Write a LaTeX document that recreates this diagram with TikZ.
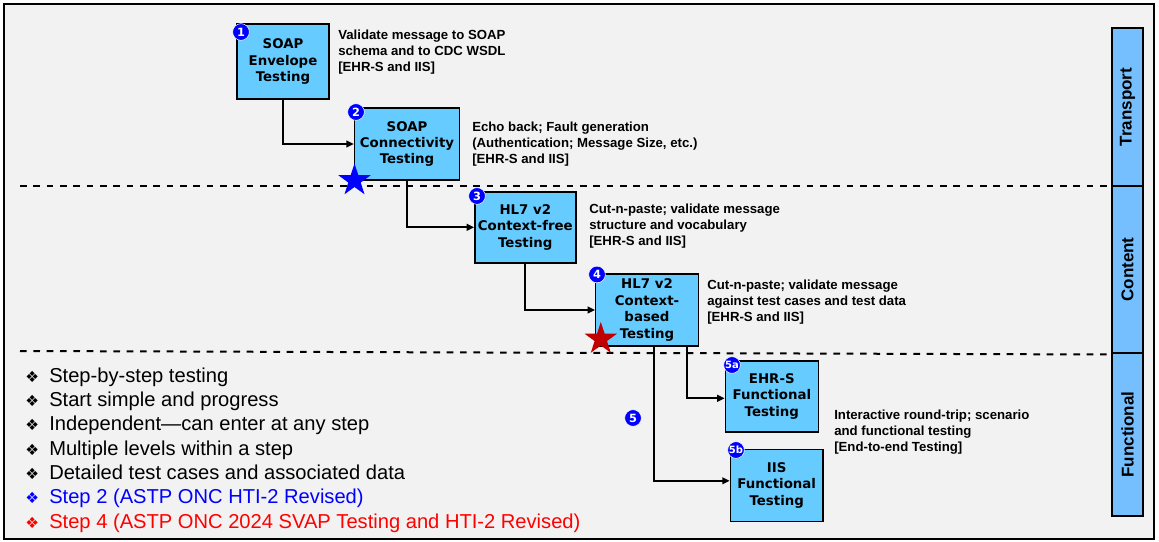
\documentclass[tikz,border=0pt]{standalone}
\usepackage{fontspec}
\setmainfont{Liberation Sans}
\newfontfamily\verd{DejaVu Sans}
\usepackage{tikz}
\usetikzlibrary{arrows.meta,calc,shapes.geometric}
\definecolor{bg}{HTML}{F2F2F2}
\definecolor{boxblue}{HTML}{66CCFF}
\definecolor{layerblue}{HTML}{75BFFF}
\definecolor{badgeblue}{HTML}{0000FF}
\definecolor{stepblue}{HTML}{0000FF}
\definecolor{stepred}{HTML}{FF0000}
\definecolor{darkred}{HTML}{C00000}
\newcommand{\bul}[1]{\makebox[18pt][l]{\color{#1}\verd\fontsize{11.5}{11.5}\selectfont ❖}}
\tikzset{
  stepbox/.style={draw=black, line width=1.1pt, fill=boxblue, align=center, inner sep=0pt,
    font=\verd\bfseries\fontsize{10}{12.3}\selectfont},
  badge/.style={circle, fill=badgeblue, draw=white, line width=0.4pt, text=white, inner sep=0pt,
    minimum size=12.5pt, font=\verd\bfseries\fontsize{8.5}{8.5}\selectfont},
  desc/.style={anchor=west, align=left, inner sep=0pt, font=\bfseries\fontsize{9.9}{12}\selectfont},
  link/.style={line width=1.5pt, -{Triangle[length=5.5pt,width=5pt]}},
  divider/.style={line width=1.5pt, dash pattern=on 5pt off 5pt},
  layer/.style={draw=black, line width=1.1pt, fill=layerblue, inner sep=0pt, rotate=90,
    minimum height=31*0.75pt, font=\bfseries\fontsize{12.75}{14}\selectfont},
  starmark/.style={star, star points=5, star point ratio=2.6, inner sep=0pt, draw=none,
    minimum size=34*0.75pt},
  notes/.style={anchor=west, align=left, inner sep=0pt, font=\fontsize{15.1}{18.2}\selectfont}
}
\begin{document}
\begin{tikzpicture}[x=0.75pt,y=-0.75pt]
  \useasboundingbox (0,0) rectangle (1159,542);
  \fill[white] (0,0) rectangle (1159,542);
  \draw[fill=bg, line width=1.5pt] (4,4) rectangle (1154,539);

  % layers
  \node[layer, minimum width=158*0.75pt] (tr) at (1127.5,107) {Transport};
  \node[layer, minimum width=167*0.75pt] (co) at (1127.5,269.5) {Content};
  \node[layer, minimum width=163*0.75pt] (fu) at (1127.5,434.5) {Functional};
  \draw[divider] (20,186) -- (1112,186);
  \draw[divider] (20,351) -- (1112,354.5);

  % test steps
  \node[stepbox, minimum width=92*0.75pt, minimum height=75*0.75pt] (b1) at (283,61.5) {SOAP\\Envelope\\Testing};
  \node[stepbox, minimum width=105*0.75pt, minimum height=72*0.75pt] (b2) at (407,144) {SOAP\\Connectivity\\Testing};
  \node[stepbox, minimum width=101*0.75pt, minimum height=71*0.75pt] (b3) at (525.3,227.3) {HL7 v2\\Context-free\\Testing};
  \node[stepbox, minimum width=102.6*0.75pt, minimum height=72*0.75pt] (b4) at (647,310) {HL7 v2\\Context-\\based\\Testing};
  \node[stepbox, minimum width=93*0.75pt, minimum height=71*0.75pt] (b5a) at (771.8,396.3) {EHR-S\\Functional\\Testing};
  \node[stepbox, minimum width=92.7*0.75pt, minimum height=72*0.75pt] (b5b) at (776.7,485.3) {IIS\\Functional\\Testing};

  \draw[link] (b1.south) |- (b2.west);
  \draw[link] (b2.south) |- (b3.west);
  \draw[link] (b3.south) |- (b4.west);
  \draw[link] ($(b4.south east)+(-12,0)$) |- ($(b5a.west)+(0,2)$);
  \draw[link] ($(b4.south)+(7,0)$) |- ($(b5b.west)+(0,-4.5)$);

  % numbers
  \node[badge] (n1) at (241,32) {1};
  \node[badge] (n2) at (356,112) {2};
  \node[badge] (n3) at (477,196) {3};
  \node[badge] (n4) at (597,274.5) {4};
  \node[badge] (n5) at (633,418) {5};
  \node[badge, font=\verd\bfseries\fontsize{7.5}{7.5}\selectfont] (n5a) at (732,365) {5a};
  \node[badge, font=\verd\bfseries\fontsize{7.5}{7.5}\selectfont] (n5b) at (736,450) {5b};

  \node[starmark, fill=stepblue] (s2) at (354.5,180.5) {};
  \node[starmark, fill=darkred] (s4) at (600.8,339) {};

  % what each step checks
  \node[desc] (d1) at (338,52) {Validate message to SOAP\\schema and to CDC WSDL\\{[EHR-S and IIS]}};
  \node[desc] (d2) at (472,144) {Echo back; Fault generation\\(Authentication; Message Size, etc.)\\{[EHR-S and IIS]}};
  \node[desc] (d3) at (589,226) {Cut-n-paste; validate message\\structure and vocabulary\\{[EHR-S and IIS]}};
  \node[desc] (d4) at (707,302) {Cut-n-paste; validate message\\against test cases and test data\\{[EHR-S and IIS]}};
  \node[desc] (d5) at (834,432) {Interactive round-trip; scenario\\and functional testing\\{[End-to-end Testing]}};

  \node[notes] (notes) at (25,450) {%
    \bul{black}Step-by-step testing\\
    \bul{black}Start simple and progress\\
    \bul{black}Independent---can enter at any step\\
    \bul{black}Multiple levels within a step\\
    \bul{black}Detailed test cases and associated data\\
    \bul{stepblue}{\color{stepblue}Step 2 (ASTP ONC HTI-2 Revised)}\\
    \bul{stepred}{\color{stepred}Step 4 (ASTP ONC 2024 SVAP Testing and HTI-2 Revised)}};
\end{tikzpicture}
\end{document}
